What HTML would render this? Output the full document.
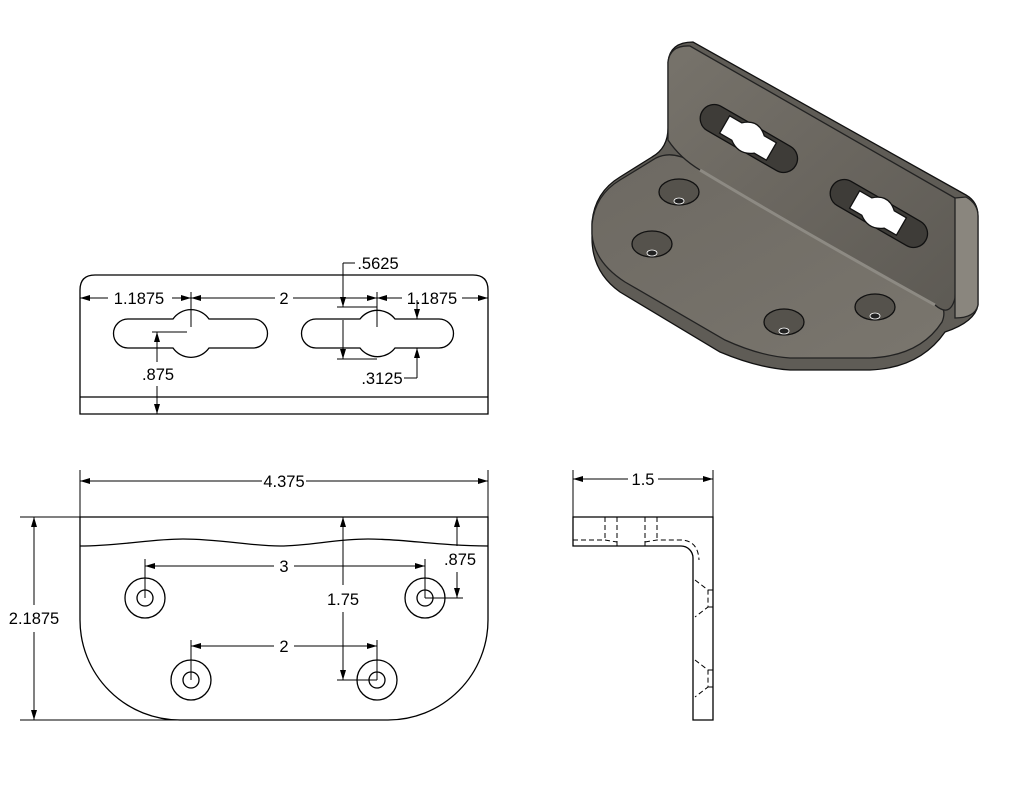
<!DOCTYPE html>
<html><head><meta charset="utf-8"><style>
html,body{margin:0;padding:0;background:#fff;}
svg{display:block;}
text{font-family:"Liberation Sans",sans-serif;font-size:16.5px;fill:#000;}
</style></head><body>
<svg width="1024" height="792" viewBox="0 0 1024 792" xmlns="http://www.w3.org/2000/svg">
<defs>
<marker id="a" viewBox="0 0 10 6" refX="10" refY="3" markerWidth="10" markerHeight="6" orient="auto-start-reverse" markerUnits="userSpaceOnUse"><path d="M0,0 L10,3 L0,6 Z" fill="#000"/></marker>
<linearGradient id="g1" x1="0" y1="0" x2="1" y2="1"><stop offset="0" stop-color="#77736b"/><stop offset="0.5" stop-color="#6a665f"/><stop offset="1" stop-color="#5d5a54"/></linearGradient>
<linearGradient id="g2" x1="0" y1="0" x2="1" y2="1"><stop offset="0" stop-color="#6d6962"/><stop offset="1" stop-color="#7a766e"/></linearGradient>
</defs>
<g fill="none" stroke="#000" stroke-width="1.3">
<!-- 3D view -->
<path d="M668,62 Q670,42 693,42 L966,195 Q978,202 978,216 L978,305 Q975,322 945,332 Q920,368 870,370 L790,370 Q758,368 720,352 L620,292 Q592,272 592,238 L592,222 Q595,192 620,177 L652,157 Q668,148 668,128 Z" fill="#5f5c56" stroke="#111"/>
<path d="M592,224 Q595,195 620,180 L656,158 Q672,150 692,162 L935,298 Q948,308 942,322 Q920,356 870,358 L790,358 Q760,356 725,340 L625,282 Q594,262 592,234 Z" fill="url(#g2)" stroke="#222"/>
<path d="M668,62 Q670,45 690,46 L955,198 Q960,206 958,220 L955,298 Q950,318 935,305 Q800,230 700,170 Q680,158 668,140 Z" fill="url(#g1)" stroke="#222"/>
<path d="M955,198 L966,197 Q978,204 978,216 L978,305 Q975,318 955,318 Z" fill="#8a867e" stroke="#222"/>
<path d="M700,170 Q800,230 935,305" stroke="#8d8a83" stroke-width="3"/>
<g transform="rotate(30 748 138)"><rect x="695" y="124" width="108" height="28" rx="14" fill="#3e3c38" stroke="#111"/><path d="M735,128 Q748,116 761,128 L775,128 L775,148 L761,148 Q748,158 735,148 L721,148 L721,128 Z" fill="#fff" stroke="#111"/></g>
<g transform="rotate(30 878 213)"><rect x="825" y="199" width="108" height="28" rx="14" fill="#3e3c38" stroke="#111"/><path d="M865,203 Q878,191 891,203 L905,203 L905,223 L891,223 Q878,233 865,223 L851,223 L851,203 Z" fill="#fff" stroke="#111"/></g>
<g fill="#55524c" stroke="#111">
<ellipse cx="679" cy="192" rx="20" ry="13"/><ellipse cx="652" cy="244" rx="20" ry="13"/><ellipse cx="784" cy="322" rx="20" ry="13"/><ellipse cx="875" cy="307" rx="20" ry="13"/></g>
<g fill="#222" stroke="#fff" stroke-width="0.8"><ellipse cx="679" cy="201" rx="5" ry="3"/><ellipse cx="652" cy="253" rx="5" ry="3"/><ellipse cx="784" cy="331" rx="5" ry="3"/><ellipse cx="875" cy="316" rx="5" ry="3"/></g>

<!-- Front view -->
<path d="M80,414 V290 Q80,275 95,275 H473 Q488,275 488,290 V414 Z"/>
<line x1="80" y1="397" x2="488" y2="397"/>
<path d="M128,319 H173 A22,22 0 0 1 209,319 H253 A14.5,14.5 0 0 1 253,348 H209 A22,22 0 0 1 173,348 H128 A14.5,14.5 0 0 1 128,319 Z"/>
<path d="M316,319 H360 A22,22 0 0 1 395,319 H439 A14.5,14.5 0 0 1 439,348 H395 A22,22 0 0 1 360,348 H316 A14.5,14.5 0 0 1 316,319 Z"/>
<g stroke-width="1">
<line x1="191" y1="292" x2="191" y2="327"/><line x1="377" y1="292" x2="377" y2="327"/>
<line x1="80" y1="298" x2="108" y2="298" marker-start="url(#a)"/><line x1="172" y1="298" x2="191" y2="298" marker-end="url(#a)"/>
<line x1="191" y1="298" x2="275" y2="298" marker-start="url(#a)"/><line x1="293" y1="298" x2="377" y2="298" marker-end="url(#a)"/>
<line x1="377" y1="298" x2="402" y2="298" marker-start="url(#a)"/><line x1="462" y1="298" x2="488" y2="298" marker-end="url(#a)"/>
<line x1="343" y1="263" x2="355" y2="263"/><line x1="343" y1="263" x2="343" y2="307" marker-end="url(#a)"/><line x1="343" y1="320" x2="343" y2="359" marker-end="url(#a)"/>
<line x1="337" y1="307" x2="377" y2="307"/><line x1="337" y1="359" x2="377" y2="359"/>
<line x1="417" y1="300" x2="417" y2="319" marker-end="url(#a)"/><line x1="417" y1="378" x2="417" y2="348" marker-end="url(#a)"/><line x1="404" y1="378" x2="417" y2="378"/>
<line x1="152" y1="332" x2="187" y2="332"/>
<line x1="157" y1="362" x2="157" y2="332" marker-end="url(#a)"/><line x1="157" y1="386" x2="157" y2="414" marker-end="url(#a)"/>
</g>
<!-- Bottom view -->
<path d="M80,517 H488 V620 A100,100 0 0 1 388,720 H180 A100,100 0 0 1 80,620 Z"/>
<path d="M80,546 C120,546 150,539 183,539 C220,539 250,546 280,546 C310,546 335,539 368,539 C405,539 440,546 488,546"/>
<circle cx="145" cy="598" r="20"/><circle cx="145" cy="598" r="8"/>
<circle cx="425" cy="598" r="20"/><circle cx="425" cy="598" r="8"/>
<circle cx="191" cy="680" r="20"/><circle cx="191" cy="680" r="8"/>
<circle cx="377" cy="680" r="20"/><circle cx="377" cy="680" r="8"/>
<g stroke-width="1">
<line x1="80" y1="470" x2="80" y2="517"/><line x1="488" y1="470" x2="488" y2="517"/>
<line x1="262" y1="481" x2="80" y2="481" marker-end="url(#a)"/><line x1="306" y1="481" x2="488" y2="481" marker-end="url(#a)"/>
<line x1="20" y1="517" x2="80" y2="517"/><line x1="20" y1="720" x2="180" y2="720"/>
<line x1="34" y1="605" x2="34" y2="517" marker-end="url(#a)"/><line x1="34" y1="632" x2="34" y2="720" marker-end="url(#a)"/>
<line x1="145" y1="559" x2="145" y2="598"/><line x1="425" y1="559" x2="425" y2="598"/>
<line x1="274" y1="566" x2="145" y2="566" marker-end="url(#a)"/><line x1="294" y1="566" x2="425" y2="566" marker-end="url(#a)"/>
<line x1="191" y1="640" x2="191" y2="680"/><line x1="377" y1="640" x2="377" y2="680"/>
<line x1="274" y1="646" x2="191" y2="646" marker-end="url(#a)"/><line x1="294" y1="646" x2="377" y2="646" marker-end="url(#a)"/>
<line x1="343" y1="585" x2="343" y2="517" marker-end="url(#a)"/><line x1="343" y1="612" x2="343" y2="680" marker-end="url(#a)"/>
<line x1="337" y1="680" x2="377" y2="680"/>
<line x1="457" y1="546" x2="457" y2="517" marker-end="url(#a)"/><line x1="457" y1="572" x2="457" y2="598" marker-end="url(#a)"/>
<line x1="425" y1="598" x2="463" y2="598"/>
</g>
<!-- Side view -->
<path d="M573,517 H713 V720 H693 V558 A12,12 0 0 0 681,546 H573 Z"/>
<g stroke-width="1">
<line x1="573" y1="470" x2="573" y2="517"/><line x1="713" y1="470" x2="713" y2="517"/>
<line x1="628" y1="479" x2="573" y2="479" marker-end="url(#a)"/><line x1="658" y1="479" x2="713" y2="479" marker-end="url(#a)"/>
</g>
<g stroke-width="1" stroke-dasharray="5,3">
<line x1="605" y1="517" x2="605" y2="540"/><line x1="617" y1="517" x2="617" y2="546"/>
<line x1="645" y1="517" x2="645" y2="546"/><line x1="657" y1="517" x2="657" y2="540"/>
<path d="M573,540 H605 L617,542"/><path d="M645,542 L657,540 H680 Q698,540 699,560"/>
<path d="M695,580 L708,590 V607 L695,617"/><line x1="708" y1="590" x2="713" y2="590"/><line x1="708" y1="607" x2="713" y2="607"/>
<path d="M695,660 L708,670 V687 L695,697"/><line x1="708" y1="670" x2="713" y2="670"/><line x1="708" y1="687" x2="713" y2="687"/>
</g>
</g>
<g text-anchor="middle">
<text x="139" y="304">1.1875</text><text x="284" y="304">2</text><text x="432" y="304">1.1875</text>
<text x="378" y="269">.5625</text>
<text x="382" y="384">.3125</text>
<text x="158" y="380">.875</text>
<text x="284" y="487">4.375</text>
<text x="34" y="624">2.1875</text>
<text x="284" y="572">3</text>
<text x="284" y="652">2</text>
<text x="343" y="605">1.75</text>
<text x="460" y="565">.875</text>
<text x="643" y="485">1.5</text>
</g>
</svg>
</body></html>
